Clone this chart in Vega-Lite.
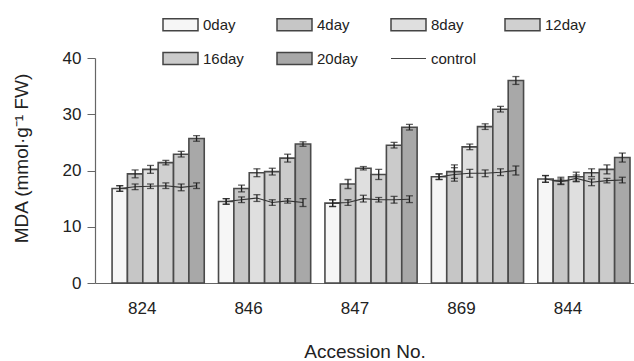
{
  "$schema": "https://vega.github.io/schema/vega-lite/v6.json",
  "autosize": {"type": "none"},
  "padding": {"left": 95, "top": 58, "right": 0, "bottom": 78},
  "width": 539,
  "height": 225,
  "background": "white",
  "config": {
    "view": {"stroke": null},
    "font": "Liberation Sans",
    "axis": {"labelFont": "Liberation Sans", "titleFont": "Liberation Sans", "labelColor": "#222", "titleColor": "#222", "titleFontWeight": "normal", "grid": false},
    "legend": {"labelFont": "Liberation Sans", "labelColor": "#222"}
  },
  "data": {"values": [
    {"acc": "824", "day": "0day", "idx": 0, "value": 16.8, "lo": 16.3, "hi": 17.3, "ctrl": 16.8, "clo": 16.3, "chi": 17.3},
    {"acc": "824", "day": "4day", "idx": 1, "value": 19.4, "lo": 18.7, "hi": 20.1, "ctrl": 17.1, "clo": 16.6, "chi": 17.6},
    {"acc": "824", "day": "8day", "idx": 2, "value": 20.2, "lo": 19.5, "hi": 20.9, "ctrl": 17.2, "clo": 16.8, "chi": 17.6},
    {"acc": "824", "day": "12day", "idx": 3, "value": 21.4, "lo": 21.0, "hi": 21.8, "ctrl": 17.3, "clo": 16.8, "chi": 17.8},
    {"acc": "824", "day": "16day", "idx": 4, "value": 22.9, "lo": 22.4, "hi": 23.4, "ctrl": 17.0, "clo": 16.4, "chi": 17.6},
    {"acc": "824", "day": "20day", "idx": 5, "value": 25.7, "lo": 25.2, "hi": 26.2, "ctrl": 17.3, "clo": 16.8, "chi": 17.8},
    {"acc": "846", "day": "0day", "idx": 0, "value": 14.5, "lo": 14.0, "hi": 15.0, "ctrl": 14.5, "clo": 14.0, "chi": 15.0},
    {"acc": "846", "day": "4day", "idx": 1, "value": 16.8, "lo": 16.2, "hi": 17.4, "ctrl": 14.8, "clo": 14.3, "chi": 15.3},
    {"acc": "846", "day": "8day", "idx": 2, "value": 19.6, "lo": 18.9, "hi": 20.3, "ctrl": 15.1, "clo": 14.5, "chi": 15.7},
    {"acc": "846", "day": "12day", "idx": 3, "value": 19.8, "lo": 19.2, "hi": 20.4, "ctrl": 14.3, "clo": 13.8, "chi": 14.8},
    {"acc": "846", "day": "16day", "idx": 4, "value": 22.2, "lo": 21.5, "hi": 22.9, "ctrl": 14.6, "clo": 14.2, "chi": 15.0},
    {"acc": "846", "day": "20day", "idx": 5, "value": 24.7, "lo": 24.3, "hi": 25.1, "ctrl": 14.3, "clo": 13.6, "chi": 15.0},
    {"acc": "847", "day": "0day", "idx": 0, "value": 14.2, "lo": 13.6, "hi": 14.8, "ctrl": 14.2, "clo": 13.6, "chi": 14.8},
    {"acc": "847", "day": "4day", "idx": 1, "value": 17.6, "lo": 16.8, "hi": 18.4, "ctrl": 14.3, "clo": 13.8, "chi": 14.8},
    {"acc": "847", "day": "8day", "idx": 2, "value": 20.4, "lo": 20.1, "hi": 20.7, "ctrl": 15.0, "clo": 14.4, "chi": 15.6},
    {"acc": "847", "day": "12day", "idx": 3, "value": 19.3, "lo": 18.4, "hi": 20.2, "ctrl": 14.8, "clo": 14.4, "chi": 15.2},
    {"acc": "847", "day": "16day", "idx": 4, "value": 24.5, "lo": 24.0, "hi": 25.0, "ctrl": 14.8, "clo": 14.2, "chi": 15.4},
    {"acc": "847", "day": "20day", "idx": 5, "value": 27.7, "lo": 27.2, "hi": 28.2, "ctrl": 14.9, "clo": 14.3, "chi": 15.5},
    {"acc": "869", "day": "0day", "idx": 0, "value": 18.9, "lo": 18.4, "hi": 19.4, "ctrl": 18.9, "clo": 18.4, "chi": 19.4},
    {"acc": "869", "day": "4day", "idx": 1, "value": 19.8, "lo": 18.6, "hi": 21.0, "ctrl": 19.3, "clo": 18.1, "chi": 20.5},
    {"acc": "869", "day": "8day", "idx": 2, "value": 24.2, "lo": 23.7, "hi": 24.7, "ctrl": 19.5, "clo": 18.8, "chi": 20.2},
    {"acc": "869", "day": "12day", "idx": 3, "value": 27.8, "lo": 27.3, "hi": 28.3, "ctrl": 19.5, "clo": 18.9, "chi": 20.1},
    {"acc": "869", "day": "16day", "idx": 4, "value": 30.9, "lo": 30.4, "hi": 31.4, "ctrl": 19.7, "clo": 19.1, "chi": 20.3},
    {"acc": "869", "day": "20day", "idx": 5, "value": 36.0, "lo": 35.3, "hi": 36.7, "ctrl": 20.0, "clo": 19.2, "chi": 20.8},
    {"acc": "844", "day": "0day", "idx": 0, "value": 18.5, "lo": 17.9, "hi": 19.1, "ctrl": 18.5, "clo": 17.9, "chi": 19.1},
    {"acc": "844", "day": "4day", "idx": 1, "value": 18.2, "lo": 17.6, "hi": 18.8, "ctrl": 18.0, "clo": 17.5, "chi": 18.5},
    {"acc": "844", "day": "8day", "idx": 2, "value": 18.9, "lo": 18.1, "hi": 19.7, "ctrl": 18.6, "clo": 18.0, "chi": 19.2},
    {"acc": "844", "day": "12day", "idx": 3, "value": 19.6, "lo": 18.9, "hi": 20.3, "ctrl": 17.9, "clo": 17.3, "chi": 18.5},
    {"acc": "844", "day": "16day", "idx": 4, "value": 20.2, "lo": 19.4, "hi": 21.0, "ctrl": 18.2, "clo": 17.8, "chi": 18.6},
    {"acc": "844", "day": "20day", "idx": 5, "value": 22.3, "lo": 21.5, "hi": 23.1, "ctrl": 18.3, "clo": 17.8, "chi": 18.8}
  ]},
  "encoding": {
    "x": {
      "field": "acc", "type": "nominal",
      "sort": ["824", "846", "847", "869", "844"],
      "scale": {"paddingInner": 0.134, "paddingOuter": 0.099, "align": 0.81},
      "axis": {"title": "Accession No.", "titleFontSize": 19, "titlePadding": 26, "labelAngle": 0, "labelFontSize": 17, "labelPadding": 17, "labelOffset": -16, "ticks": false, "domainColor": "#666", "domainWidth": 1.2}
    },
    "xOffset": {"field": "day", "type": "nominal", "sort": ["0day", "4day", "8day", "12day", "16day", "20day"], "scale": {"paddingInner": 0, "paddingOuter": 0}}
  },
  "layer": [
    {
      "mark": {"type": "bar", "stroke": "#4a4a4a", "strokeWidth": 1.6},
      "encoding": {
        "y": {
          "field": "value", "type": "quantitative",
          "scale": {"domain": [0, 40], "nice": false},
          "axis": {"title": "MDA (mmol·g⁻¹ FW)", "titleFontSize": 19, "titleX": -74, "titleY": 100, "titleAngle": -90, "titleAlign": "center", "titleBaseline": "middle", "values": [0, 10, 20, 30, 40], "labelFontSize": 17, "tickSize": 8, "labelPadding": 6, "domainColor": "#666", "tickColor": "#666", "domainWidth": 1.2}
        },
        "fill": {
          "field": "day", "type": "nominal",
          "scale": {"domain": ["0day", "4day", "8day", "12day", "16day", "20day", "control"], "range": ["#f6f6f6", "#c6c6c6", "#dfdfdf", "#d0d0d0", "#cbcbcb", "#a8a8a8", "#333333"]},
          "legend": {
            "title": null, "orient": "none", "legendX": 78, "legendY": -41,
            "direction": "horizontal", "columns": 4, "gridAlign": "all",
            "columnPadding": 25, "rowPadding": 15, "padding": 0,
            "symbolSize": 1225, "symbolStrokeColor": "#444", "symbolStrokeWidth": 1.5,
            "labelFontSize": 15, "labelOffset": 15,
            "encode": {"symbols": {"update": {
              "shape": {"signal": "datum.value === 'control' ? 'M-1,0H1' : 'M-1,-0.343H1V0.343H-1Z'"},
              "strokeWidth": {"signal": "datum.value === 'control' ? 1.2 : 1.5"},
              "stroke": {"value": "#444"}
            }}}
          }
        }
      }
    },
    {
      "mark": {"type": "rule", "color": "#222", "strokeWidth": 1.3},
      "encoding": {"y": {"field": "lo", "type": "quantitative"}, "y2": {"field": "hi"}}
    },
    {
      "mark": {"type": "tick", "color": "#222", "size": 7, "thickness": 1.3},
      "encoding": {"y": {"field": "lo", "type": "quantitative"}}
    },
    {
      "mark": {"type": "tick", "color": "#222", "size": 7, "thickness": 1.3},
      "encoding": {"y": {"field": "hi", "type": "quantitative"}}
    },
    {
      "mark": {"type": "line", "color": "#333", "strokeWidth": 1.1},
      "encoding": {"y": {"field": "ctrl", "type": "quantitative"}, "detail": {"field": "acc"}, "order": {"field": "idx"}}
    },
    {
      "mark": {"type": "rule", "color": "#222", "strokeWidth": 1.3},
      "encoding": {"y": {"field": "clo", "type": "quantitative"}, "y2": {"field": "chi"}}
    },
    {
      "mark": {"type": "tick", "color": "#222", "size": 7, "thickness": 1.3},
      "encoding": {"y": {"field": "clo", "type": "quantitative"}}
    },
    {
      "mark": {"type": "tick", "color": "#222", "size": 7, "thickness": 1.3},
      "encoding": {"y": {"field": "chi", "type": "quantitative"}}
    }
  ]
}
